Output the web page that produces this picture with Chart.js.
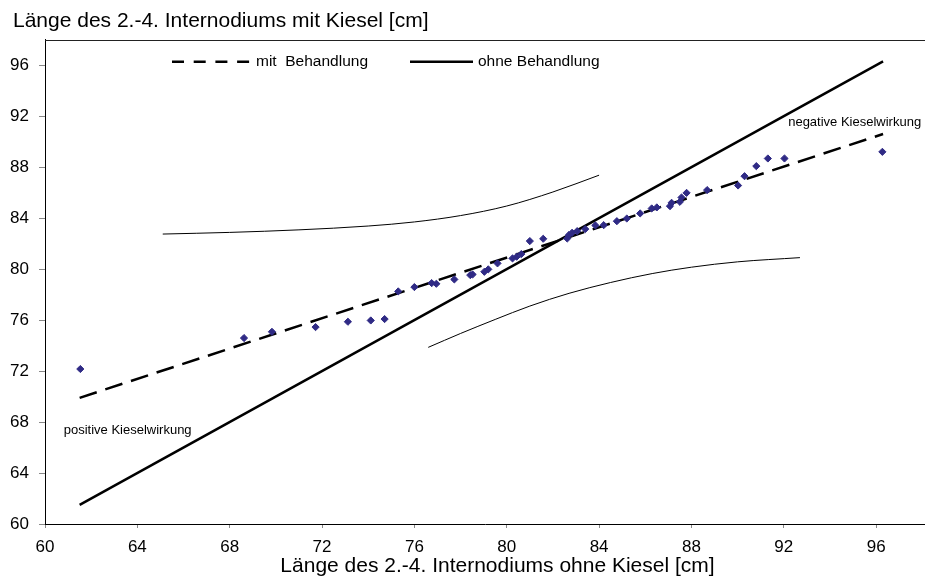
<!DOCTYPE html>
<html>
<head>
<meta charset="utf-8">
<script src="https://cdn.jsdelivr.net/npm/chart.js"></script>
<style>
  body { margin: 0; background: #fff; }
  #wrap { width: 925px; height: 578px; }
</style>
</head>
<body>
<div id="wrap"><canvas id="kiesel" width="925" height="578"></canvas></div>
<script>
// Messwerte: Laenge ohne Kiesel (x) gegen Laenge mit Kiesel (y)
var xOhne = [61.53, 68.62, 69.83, 71.72, 73.12, 74.11, 74.71, 75.30, 76.00, 76.75,
  76.95, 77.73, 78.42, 78.52, 79.03, 79.20, 79.60, 80.25, 80.43, 80.63,
  81.00, 81.58, 82.62, 82.69, 82.83, 83.05, 83.40, 83.84, 84.20, 84.77,
  85.20, 85.78, 86.28, 86.50, 87.07, 87.14, 87.50, 87.57, 87.79, 88.68,
  90.02, 90.30, 90.81, 91.31, 92.03, 96.27]
var yMit = [72.16, 74.59, 75.08, 75.45, 75.87, 75.97, 76.08, 78.25, 78.59, 78.90,
  78.85, 79.19, 79.53, 79.58, 79.79, 79.98, 80.45, 80.84, 80.97, 81.18,
  82.20, 82.38, 82.40, 82.67, 82.85, 82.98, 83.14, 83.43, 83.45, 83.76,
  83.97, 84.37, 84.76, 84.84, 84.94, 85.20, 85.28, 85.62, 85.98, 86.20,
  86.56, 87.29, 88.08, 88.68, 88.68, 89.20]

// Regressionsgerade (mit Behandlung) und Winkelhalbierende (ohne Behandlung)
var regX = [61.5, 96.3]
var regY = [69.9, 90.6]
var diagX = [61.5, 96.3]
var diagY = [61.5, 96.3]

// duenne Grenzkurven
var obenX = [65.1, 68, 71, 74, 76, 78, 80, 82, 84]
var obenY = [82.75, 82.88, 83.08, 83.38, 83.7, 84.2, 84.95, 86.05, 87.37]
var untenX = [76.6, 78, 79.5, 81, 82.7, 84.5, 86.3, 88, 90, 92.7]
var untenY = [73.86, 74.95, 76.05, 77.1, 78.1, 78.95, 79.65, 80.15, 80.57, 80.9]

var legendTexts = ['mit  Behandlung', 'ohne Behandlung']
var noteTexts = ['negative Kieselwirkung', 'positive Kieselwirkung']
var noteX = [92.19, 60.81]
var noteY = [91.53, 67.37]

var FONT = '"Liberation Sans", Arial, sans-serif'

function pairs(xs, ys) {
    return xs.map(function (x, i) { return { x: x, y: ys[i] } })
}

// Rahmen oben, Legende und Beschriftungen im Diagramm
var extras = {
    id: 'extras',
    afterLayout: function (chart) {
        // y-Beschriftung nicht abschneiden, x-Titel etwas nach rechts wie im Original
        chart.scales.y.left = 0
        chart.scales.x.right = chart.width + 25
    },
    afterDatasetsDraw: function (chart) {
        var ctx = chart.ctx
        var a = chart.chartArea
        var sx = chart.scales.x, sy = chart.scales.y
        ctx.save()
        ctx.strokeStyle = '#222'
        ctx.lineWidth = 1
        ctx.beginPath()
        ctx.moveTo(a.left, Math.round(a.top) + 0.5)
        ctx.lineTo(chart.width, Math.round(a.top) + 0.5)
        ctx.stroke()

        var ly = a.top + 22
        ctx.strokeStyle = '#000'
        ctx.lineWidth = 2.5
        ctx.setLineDash([12, 9.7])
        ctx.beginPath()
        ctx.moveTo(a.left + 127, ly)
        ctx.lineTo(a.left + 211, ly)
        ctx.stroke()
        ctx.setLineDash([])
        ctx.beginPath()
        ctx.moveTo(a.left + 365, ly)
        ctx.lineTo(a.left + 428, ly)
        ctx.stroke()

        ctx.fillStyle = '#000'
        ctx.textBaseline = 'middle'
        ctx.textAlign = 'left'
        ctx.font = '15.5px ' + FONT
        ctx.fillText(legendTexts[0], a.left + 211, ly)
        ctx.fillText(legendTexts[1], a.left + 433, ly)

        ctx.font = '13px ' + FONT
        for (var i = 0; i < noteTexts.length; i++) {
            ctx.fillText(noteTexts[i], sx.getPixelForValue(noteX[i]), sy.getPixelForValue(noteY[i]))
        }
        ctx.restore()
    }
}

var ctx = document.getElementById('kiesel').getContext('2d')
var chart = new Chart(ctx, {
    type: 'scatter',
    data: {
        datasets: [
            {
                label: 'Messwerte',
                data: pairs(xOhne, yMit),
                pointStyle: 'rectRot',
                pointRadius: 3.6,
                backgroundColor: '#2f2a85',
                borderColor: '#2f2a85',
                borderWidth: 1
            },
            {
                label: 'mit Behandlung',
                data: pairs(regX, regY),
                showLine: true,
                pointRadius: 0,
                borderColor: '#000',
                borderWidth: 2.5,
                borderDash: [18, 9]
            },
            {
                label: 'ohne Behandlung',
                data: pairs(diagX, diagY),
                showLine: true,
                pointRadius: 0,
                borderColor: '#000',
                borderWidth: 2.5
            },
            {
                label: 'oben',
                data: pairs(obenX, obenY),
                showLine: true,
                pointRadius: 0,
                borderColor: '#000',
                borderWidth: 1,
                cubicInterpolationMode: 'monotone'
            },
            {
                label: 'unten',
                data: pairs(untenX, untenY),
                showLine: true,
                pointRadius: 0,
                borderColor: '#000',
                borderWidth: 1,
                cubicInterpolationMode: 'monotone'
            }
        ]
    },
    options: {
        responsive: false,
        animation: false,
        devicePixelRatio: 1,
        layout: { padding: { left: 13, right: 0, top: 0, bottom: 0 } },
        plugins: {
            legend: { display: false },
            tooltip: { enabled: false },
            title: {
                display: true,
                text: 'Länge des 2.-4. Internodiums mit Kiesel [cm]',
                align: 'start',
                color: '#000',
                font: { family: FONT, size: 21, weight: 'normal' },
                padding: { top: 9, bottom: 5.5 }
            }
        },
        scales: {
            x: {
                type: 'linear',
                min: 60,
                max: 97.9,
                afterFit: function (scale) {
                    scale.height = 54
                    scale.paddingRight = 0
                },
                ticks: {
                    stepSize: 4,
                    includeBounds: false,
                    maxRotation: 0,
                    color: '#000',
                    padding: 9,
                    font: { family: FONT, size: 17 }
                },
                grid: { drawOnChartArea: false, tickLength: 4, color: '#888' },
                border: { color: '#000', width: 1 },
                title: {
                    display: true,
                    text: 'Länge des 2.-4. Internodiums ohne Kiesel [cm]',
                    color: '#000',
                    font: { family: FONT, size: 21, lineHeight: 1 },
                    padding: { top: 0, bottom: 1 }
                }
            },
            y: {
                type: 'linear',
                min: 60,
                max: 98,
                afterFit: function (scale) {
                    scale.width = 32
                },
                ticks: {
                    stepSize: 4,
                    includeBounds: false,
                    color: '#000',
                    padding: 10,
                    font: { family: FONT, size: 17 }
                },
                grid: { drawOnChartArea: false, tickLength: 6, color: '#888' },
                border: { color: '#000', width: 1 }
            }
        }
    },
    plugins: [extras]
})
</script>
</body>
</html>
